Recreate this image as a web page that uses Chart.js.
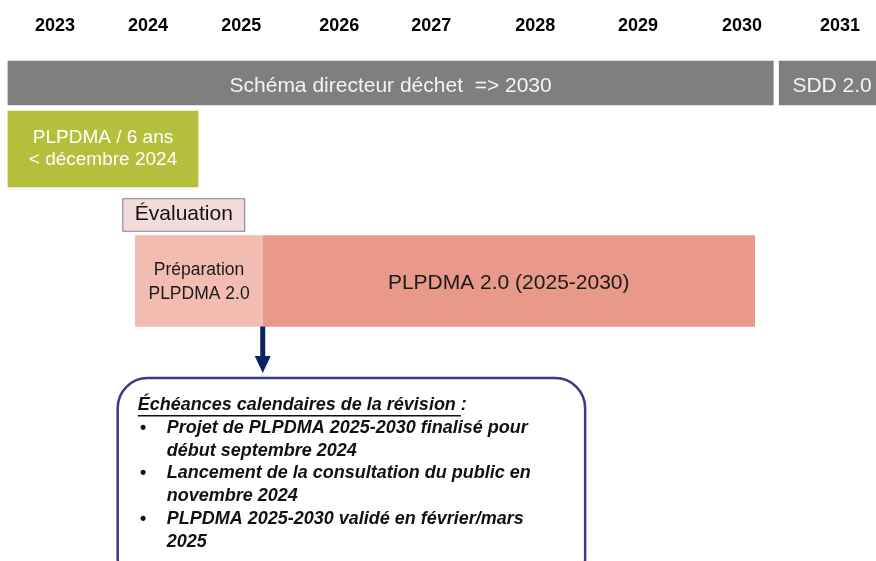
<!DOCTYPE html>
<html>
<head>
<meta charset="utf-8">
<script src="https://cdn.jsdelivr.net/npm/chart.js@4.4.1/dist/chart.umd.min.js"></script>
<style>
  html, body { margin: 0; padding: 0; background: #fff; }
</style>
</head>
<body>
<canvas id="timelineChart" width="876" height="561"></canvas>
<script>
// rows of the timeline (top to bottom)
const rows = ["Schéma", "PLPDMA", "Évaluation", "Révision"];

// year ticks along the top (positions, in years)
const years = ["2023", "2024", "2025", "2026", "2027", "2028", "2029", "2030", "2031"];
const yearPos = [2023, 2023.95, 2024.9, 2025.9, 2026.84, 2027.9, 2028.95, 2030.01, 2031.01];

// spans [start, end] in years
const schemaSpan = [2022.52, 2030.33];
const sddSpan = [2030.39, 2031.47];
const plpdmaSpan = [2022.52, 2024.46];
const evaluationSpan = [2023.69, 2024.94];
const preparationSpan = [2023.82, 2025.12];
const plpdma2Span = [2025.12, 2030.14];
const calloutSpan = [2023.64, 2028.41];

const calloutTitle = "Échéances calendaires de la révision";
const calloutItems = [
  ["Projet de PLPDMA 2025-2030 finalisé pour", "début septembre 2024"],
  ["Lancement de la consultation du public en", "novembre 2024"],
  ["PLPDMA 2025-2030 validé en février/mars", "2025"]
];

const FONT = "'Liberation Sans', Arial, sans-serif";

function rowData(rowIndex, span) {
  return rows.map((r, i) => (i === rowIndex ? span : null));
}

// text inside the bars
const barLabels = {
  id: "barLabels",
  afterDatasetsDraw(chart) {
    const ctx = chart.ctx;
    chart.data.datasets.forEach((ds, di) => {
      const meta = chart.getDatasetMeta(di);
      meta.data.forEach((bar, i) => {
        if (!ds.data[i] || !ds.lines) return;
        const cx = (bar.x + bar.base) / 2;
        const n = ds.lines.length;
        ctx.save();
        ctx.fillStyle = ds.textColor;
        ctx.font = ds.textFont;
        ctx.textAlign = "center";
        ctx.textBaseline = "middle";
        ds.lines.forEach((line, k) => {
          ctx.fillText(line, cx, bar.y + (k - (n - 1) / 2) * ds.lineGap + (ds.textDy || 0));
        });
        ctx.restore();
      });
    });
  }
};

// arrow and call-out box below the chart
const callout = {
  id: "callout",
  afterDraw(chart) {
    const ctx = chart.ctx;
    const xs = chart.scales.x;
    const prepMeta = chart.getDatasetMeta(4);
    const prepBar = prepMeta.data[3];
    const ax = xs.getPixelForValue(preparationSpan[1]);
    const top = prepBar.y + prepBar.height / 2;
    const boxTop = chart.chartArea.bottom + 64;

    ctx.save();
    ctx.strokeStyle = "#0b2265";
    ctx.fillStyle = "#0b2265";
    ctx.lineWidth = 5;
    ctx.beginPath();
    ctx.moveTo(ax, top);
    ctx.lineTo(ax, boxTop - 20);
    ctx.stroke();
    ctx.beginPath();
    ctx.moveTo(ax - 8, boxTop - 22);
    ctx.lineTo(ax + 8, boxTop - 22);
    ctx.lineTo(ax, boxTop - 5);
    ctx.closePath();
    ctx.fill();

    const bx0 = xs.getPixelForValue(calloutSpan[0]);
    const bx1 = xs.getPixelForValue(calloutSpan[1]);
    ctx.beginPath();
    ctx.roundRect(bx0, boxTop, bx1 - bx0, 210, 30);
    ctx.fillStyle = "#ffffff";
    ctx.fill();
    ctx.lineWidth = 2.5;
    ctx.strokeStyle = "#3b3b8c";
    ctx.stroke();

    ctx.fillStyle = "#111111";
    ctx.font = "italic bold 18px " + FONT;
    ctx.textBaseline = "middle";
    ctx.textAlign = "left";
    const lx = bx0 + 20;
    let y = boxTop + 27;
    const title = calloutTitle + " ";
    ctx.fillText(title, lx, y);
    const tw = ctx.measureText(title).width;
    ctx.fillText(":", lx + tw, y);
    ctx.fillRect(lx, y + 10, tw, 1.5);
    calloutItems.forEach(item => {
      item.forEach((line, k) => {
        y += 22.8;
        if (k === 0) ctx.fillText("•", lx + 2, y);
        ctx.fillText(line, lx + 29, y);
      });
    });
    ctx.restore();
  }
};

const ctx = document.getElementById("timelineChart").getContext("2d");
const timelineChart = new Chart(ctx, {
  type: "bar",
  data: {
    labels: rows,
    datasets: [
      {
        label: "Schéma directeur déchet",
        data: rowData(0, schemaSpan),
        backgroundColor: "#7f7f7f",
        barThickness: 44,
        lines: ["Schéma directeur déchet  => 2030"],
        textColor: "#f4f4f4",
        textFont: "21px " + FONT,
        lineGap: 0,
        textDy: 3
      },
      {
        label: "SDD 2.0",
        data: rowData(0, sddSpan),
        backgroundColor: "#7f7f7f",
        barThickness: 44,
        lines: ["SDD 2.0"],
        textColor: "#f4f4f4",
        textFont: "21px " + FONT,
        lineGap: 0,
        textDy: 3
      },
      {
        label: "PLPDMA",
        data: rowData(1, plpdmaSpan),
        backgroundColor: "#b4c03c",
        barThickness: 76,
        lines: ["PLPDMA / 6 ans", "< décembre 2024"],
        textColor: "#ffffff",
        textFont: "19px " + FONT,
        lineGap: 22,
        textDy: 0
      },
      {
        label: "Évaluation",
        data: rowData(2, evaluationSpan),
        backgroundColor: "#f2dcdb",
        borderColor: "#5a5a5a",
        borderWidth: 1,
        borderSkipped: false,
        barThickness: 33,
        lines: ["Évaluation"],
        textColor: "#111111",
        textFont: "21px " + FONT,
        lineGap: 0,
        textDy: -1
      },
      {
        label: "Préparation PLPDMA 2.0",
        data: rowData(3, preparationSpan),
        backgroundColor: "#f2bcb0",
        barThickness: 91,
        lines: ["Préparation", "PLPDMA 2.0"],
        textColor: "#1a1a1a",
        textFont: "17.5px " + FONT,
        lineGap: 24,
        textDy: 1
      },
      {
        label: "PLPDMA 2.0 (2025-2030)",
        data: rowData(3, plpdma2Span),
        backgroundColor: "#e8998a",
        barThickness: 91,
        lines: ["PLPDMA 2.0 (2025-2030)"],
        textColor: "#1a1a1a",
        textFont: "21px " + FONT,
        lineGap: 0,
        textDy: 2
      }
    ]
  },
  options: {
    indexAxis: "y",
    responsive: false,
    animation: false,
    devicePixelRatio: 1,
    clip: false,
    layout: { padding: { left: 0, right: 0, top: 0, bottom: 247 } },
    datasets: { bar: { grouped: false } },
    plugins: {
      legend: { display: false },
      tooltip: { enabled: false }
    },
    scales: {
      x: {
        type: "linear",
        position: "top",
        min: 2022.439,
        max: 2031.378,
        grid: { display: false, drawTicks: false },
        border: { display: false },
        afterBuildTicks: axis => {
          axis.ticks = yearPos.map(v => ({ value: v }));
        },
        afterFit: scale => {
          scale.height = 50;
        },
        ticks: {
          autoSkip: false,
          maxRotation: 0,
          padding: 13,
          color: "#000000",
          font: { family: FONT, size: 18, weight: "bold" },
          callback: (value, index) => years[index]
        }
      },
      y: {
        type: "category",
        display: false,
        offset: true
      }
    }
  },
  plugins: [barLabels, callout]
});
</script>
</body>
</html>
